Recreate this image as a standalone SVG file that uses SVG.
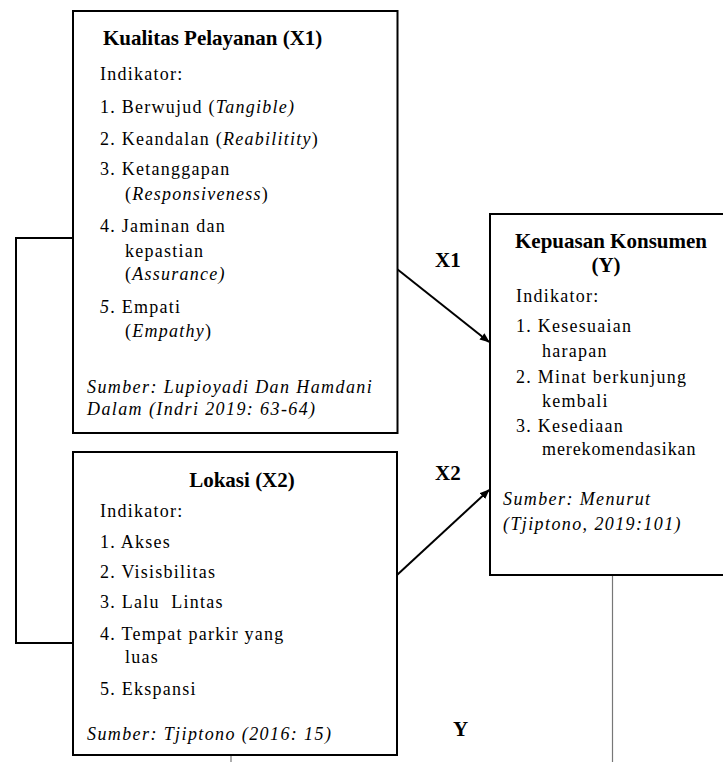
<svg xmlns="http://www.w3.org/2000/svg" width="723" height="762" viewBox="0 0 723 762">
<style>
.box{fill:#fff;stroke:#000;stroke-width:2}
.ln{fill:none;stroke:#000;stroke-width:2}
.gray{fill:none;stroke:#777;stroke-width:1.2}
</style>
<defs>
<marker id="ah" markerWidth="10" markerHeight="8" refX="9" refY="4" orient="auto" markerUnits="userSpaceOnUse">
<path d="M0,0 L10,4 L0,8 Z" fill="#000"/>
</marker>
</defs>
<rect width="723" height="762" fill="#fff"/>
<g id="connectors">
<polyline class="ln" points="73,238 16,238 16,643 73,643"/>
<line class="ln" x1="397" y1="269" x2="489" y2="342" marker-end="url(#ah)"/>
<line class="ln" x1="397" y1="575" x2="489" y2="490" marker-end="url(#ah)"/>
<line class="gray" x1="612.5" y1="576" x2="612.5" y2="762"/>
<line class="gray" x1="231" y1="756" x2="231" y2="762"/>
<text x="435" y="267" font-family="Liberation Serif" font-size="21" font-weight="bold">X1</text>
<text x="435" y="480" font-family="Liberation Serif" font-size="21" font-weight="bold">X2</text>
<text x="453" y="736" font-family="Liberation Serif" font-size="21" font-weight="bold">Y</text>
</g>
<g id="x1">
<rect class="box" x="73" y="11" width="324.5" height="422"/>
<text x="103" y="45" font-family="Liberation Serif" font-size="21" font-weight="bold">Kualitas Pelayanan (X1)</text>
<text x="100" y="80" font-family="Liberation Serif" font-size="18" letter-spacing="1.25">Indikator:</text>
<text x="100" y="113" font-family="Liberation Serif" font-size="18" letter-spacing="1.25">1. Berwujud (<tspan font-style="italic">Tangible)</tspan></text>
<text x="100" y="145" font-family="Liberation Serif" font-size="18" letter-spacing="1.25">2. Keandalan (<tspan font-style="italic">Reabilitity</tspan>)</text>
<text x="100" y="175" font-family="Liberation Serif" font-size="18" letter-spacing="1.25">3. Ketanggapan</text>
<text x="125" y="200" font-family="Liberation Serif" font-size="18" letter-spacing="1.25">(<tspan font-style="italic">Responsiveness</tspan>)</text>
<text x="100" y="232" font-family="Liberation Serif" font-size="18" letter-spacing="1.25">4. Jaminan dan</text>
<text x="125" y="257" font-family="Liberation Serif" font-size="18" letter-spacing="1.25">kepastian</text>
<text x="125" y="280" font-family="Liberation Serif" font-size="18" letter-spacing="1.25">(<tspan font-style="italic">Assurance)</tspan></text>
<text x="100" y="313" font-family="Liberation Serif" font-size="18" letter-spacing="1.25"><tspan font-style="italic">5</tspan>. Empati</text>
<text x="125" y="337" font-family="Liberation Serif" font-size="18" letter-spacing="1.25">(<tspan font-style="italic">Empathy</tspan>)</text>
<text x="87" y="393" font-family="Liberation Serif" font-size="18" font-style="italic" letter-spacing="1.4">Sumber: Lupioyadi Dan Hamdani</text>
<text x="87" y="415" font-family="Liberation Serif" font-size="18" font-style="italic" letter-spacing="1.4">Dalam (Indri 2019: 63-64)</text>
</g>
<g id="x2">
<rect class="box" x="73" y="452" width="324" height="303"/>
<text x="242" y="487" text-anchor="middle" font-family="Liberation Serif" font-size="21" font-weight="bold">Lokasi (X2)</text>
<text x="100" y="517" font-family="Liberation Serif" font-size="18" letter-spacing="1.25">Indikator:</text>
<text x="100" y="548" font-family="Liberation Serif" font-size="18" letter-spacing="1.25">1. Akses</text>
<text x="100" y="578" font-family="Liberation Serif" font-size="18" letter-spacing="1.25">2. Visisbilitas</text>
<text x="100" y="608" font-family="Liberation Serif" font-size="18" letter-spacing="1.25" xml:space="preserve">3. Lalu  Lintas</text>
<text x="100" y="640" font-family="Liberation Serif" font-size="18" letter-spacing="1.25">4. Tempat parkir yang</text>
<text x="125" y="663" font-family="Liberation Serif" font-size="18" letter-spacing="1.25">luas</text>
<text x="100" y="695" font-family="Liberation Serif" font-size="18" letter-spacing="1.25">5. Ekspansi</text>
<text x="87" y="740" font-family="Liberation Serif" font-size="18" font-style="italic" letter-spacing="1.4">Sumber: Tjiptono (2016: 15)</text>
</g>
<g id="y">
<rect class="box" x="490" y="214" width="240" height="361"/>
<text x="611" y="248" text-anchor="middle" font-family="Liberation Serif" font-size="21" font-weight="bold">Kepuasan Konsumen</text>
<text x="606" y="272" text-anchor="middle" font-family="Liberation Serif" font-size="21" font-weight="bold">(Y)</text>
<text x="516" y="302" font-family="Liberation Serif" font-size="18" letter-spacing="1.25">Indikator:</text>
<text x="516" y="332" font-family="Liberation Serif" font-size="18" letter-spacing="1.25">1. Kesesuaian</text>
<text x="542" y="357" font-family="Liberation Serif" font-size="18" letter-spacing="1.25">harapan</text>
<text x="516" y="383" font-family="Liberation Serif" font-size="18" letter-spacing="1.25">2. Minat berkunjung</text>
<text x="542" y="407" font-family="Liberation Serif" font-size="18" letter-spacing="1.25">kembali</text>
<text x="516" y="432" font-family="Liberation Serif" font-size="18" letter-spacing="1.25">3. Kesediaan</text>
<text x="542" y="455" font-family="Liberation Serif" font-size="18" letter-spacing="0.9">merekomendasikan</text>
<text x="503" y="505" font-family="Liberation Serif" font-size="18" font-style="italic" letter-spacing="1.4">Sumber: Menurut</text>
<text x="503" y="530" font-family="Liberation Serif" font-size="18" font-style="italic" letter-spacing="1.4">(Tjiptono, 2019:101)</text>
</g>
</svg>
